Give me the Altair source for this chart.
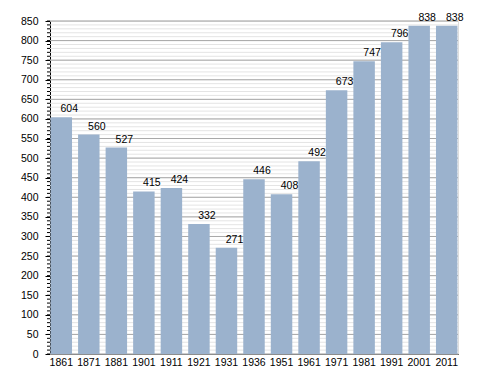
import altair as alt
import pandas as pd

years = ["1861", "1871", "1881", "1901", "1911", "1921", "1931", "1936",
         "1951", "1961", "1971", "1981", "1991", "2001", "2011"]
population = [604, 560, 527, 415, 424, 332, 271, 446, 408, 492, 673, 747, 796, 838, 838]

y_major = list(range(0, 851, 50))
y_minor = list(range(0, 851, 10))

df = pd.DataFrame({"year": years, "pop": population})
minor_df = pd.DataFrame({"v": y_minor})
major_df = pd.DataFrame({"v": y_major})

FONT = "Liberation Sans"
yscale = alt.Scale(domain=[0, 850], nice=False, zero=True)
xscale = alt.Scale(paddingInner=0.22, paddingOuter=0.02)

yaxis = alt.Axis(title=None, values=y_major, tickSize=5, tickColor="black",
                 domainColor="black", labelFont=FONT, labelFontSize=10.5,
                 labelColor="black", labelPadding=7, grid=False)

minor_grid = alt.Chart(minor_df).mark_rule(color="#e4e4e4", strokeWidth=1).encode(
    y=alt.Y("v:Q", scale=yscale, axis=yaxis)
)
minor_ticks = alt.Chart(minor_df).mark_rule(color="black", strokeWidth=1).encode(
    y=alt.Y("v:Q", scale=yscale, axis=yaxis),
    x=alt.value(-3), x2=alt.value(0)
)
major_grid = alt.Chart(major_df).mark_rule(color="#a8a8a8", strokeWidth=1).encode(
    y=alt.Y("v:Q", scale=yscale, axis=yaxis)
)

bars = alt.Chart(df).mark_bar(color="#9bb2cd").encode(
    x=alt.X("year:N", sort=years, scale=xscale,
            axis=alt.Axis(title=None, labelAngle=0, ticks=False, labelPadding=3,
                          domainColor="black", labelFont=FONT, labelFontSize=10.5,
                          labelColor="black", grid=False)),
    y=alt.Y("pop:Q", scale=yscale, axis=yaxis),
)

labels = alt.Chart(df).mark_text(font=FONT, fontSize=10.5, color="black",
                                 baseline="bottom", dx=8, dy=-3).encode(
    x=alt.X("year:N", sort=years, scale=xscale),
    y=alt.Y("pop:Q", scale=yscale, axis=yaxis),
    text="pop:Q",
)

chart = alt.layer(minor_grid, major_grid, minor_ticks, bars, labels).properties(
    width=408, height=333,
    autosize=alt.AutoSizeParams(type="none"),
    padding={"left": 42, "top": 13, "right": 22, "bottom": 19},
).configure_view(stroke=None).configure(background="white")

chart.save("out.html", embed_options={"renderer": "svg", "actions": False})
